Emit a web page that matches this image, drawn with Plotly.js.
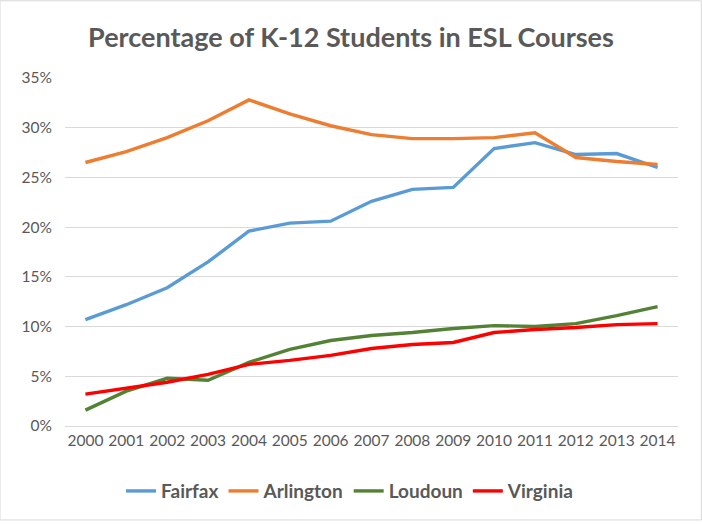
<!DOCTYPE html>
<html><head><meta charset="utf-8">
<script src="https://cdn.plot.ly/plotly-3.0.1.min.js"></script>
<style>html,body{margin:0;padding:0;background:#fff;}#chart{width:702px;height:524px;}</style>
</head><body><div id="chart"></div>
<script>
const years = ['2000','2001','2002','2003','2004','2005','2006','2007','2008','2009','2010','2011','2012','2013','2014'];
const fairfax = [0.107,0.122,0.139,0.165,0.196,0.204,0.206,0.226,0.238,0.240,0.279,0.285,0.273,0.274,0.260];
const arlington = [0.265,0.276,0.290,0.307,0.328,0.314,0.302,0.293,0.289,0.289,0.290,0.295,0.270,0.266,0.263];
const loudoun = [0.016,0.035,0.048,0.046,0.064,0.077,0.086,0.091,0.094,0.098,0.101,0.100,0.103,0.111,0.120];
const virginia = [0.032,0.038,0.044,0.052,0.062,0.066,0.071,0.078,0.082,0.084,0.094,0.097,0.099,0.102,0.103];
const names = ['Fairfax','Arlington','Loudoun','Virginia'];
const colors = ['#5B9BD5','#ED7D31','#548235','#FF0000'];
const series = [fairfax, arlington, loudoun, virginia];
const font = "Lato, 'Open Sans', sans-serif";
const traces = series.map((s,i)=>({
  x: years, y: s, name: names[i], type:'scatter', mode:'lines',
  line:{color:colors[i], width:3.4}
}));
const layout = {
  width:702, height:524,
  margin:{l:65, r:24, t:78, b:98},
  paper_bgcolor:'#fff', plot_bgcolor:'#fff',
  title:{text:'Percentage of K-12 Students in ESL Courses', x:0.5, xanchor:'center', y:0.928, yanchor:'middle',
    font:{family:font, size:27, color:'#595959', weight:'bold'}},
  xaxis:{type:'category', range:[-0.5,14.5], showgrid:false, zeroline:false,
    showline:true, linecolor:'#D9D9D9', linewidth:1, ticks:'',
    tickfont:{family:font, size:15.5, color:'#595959'}, fixedrange:true},
  yaxis:{range:[0,0.35], dtick:0.05, tickformat:'.0%', showgrid:true, gridcolor:'#D9D9D9', gridwidth:1,
    zeroline:false, showline:false, ticks:'', ticklabelstandoff:12,
    tickfont:{family:font, size:15.5, color:'#595959'}, fixedrange:true},
  legend:{orientation:'h', x:0.465, xanchor:'center', y:-0.187, yanchor:'middle',
    font:{family:font, size:19, color:'#595959', weight:'bold'}, itemwidth:30, tracegroupgap:0},
  showlegend:true,
  shapes:[{type:'rect', xref:'paper', yref:'paper', x0:-0.106, x1:1.038, y0:-0.27, y1:1.222,
    line:{color:'#D9D9D9', width:1}}]
};
Plotly.newPlot('chart', traces, layout, {displayModeBar:false, staticPlot:true});
</script></body></html>
